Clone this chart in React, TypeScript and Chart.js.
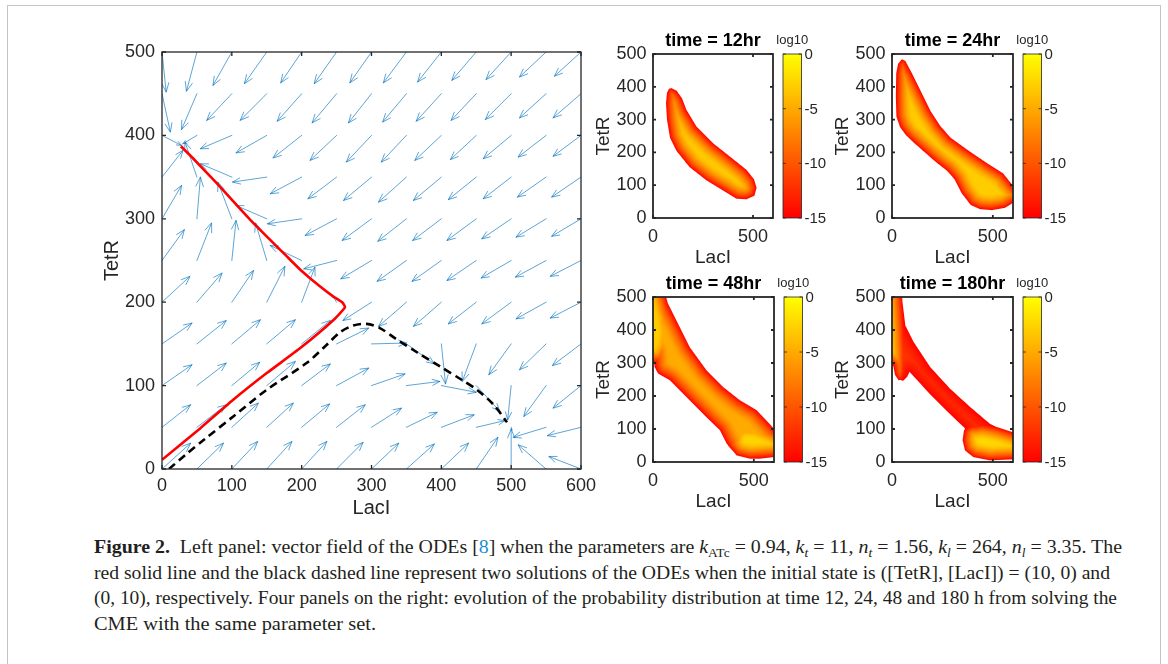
import React, { useEffect, useLayoutEffect, useRef } from 'react';
import { Chart, registerables } from 'chart.js';

Chart.register(...registerables);

const FONT = "'Liberation Sans', Arial, Helvetica, sans-serif";
const SERIF = "'Liberation Serif', 'Times New Roman', serif";
const AXIS_COLOR = '#262626';
const ARROW_COLOR = 'rgba(0,114,189,0.8)';

// ---------------- Left panel: vector field + trajectories ----------------
const mainXTicks = [0, 100, 200, 300, 400, 500, 600];
const mainYTicks = [0, 100, 200, 300, 400, 500];

const quiverLacI = [0, 50, 100, 150, 200, 250, 300, 350, 400, 450, 500, 550, 600];
const quiverTetR = [0, 50, 100, 150, 200, 250, 300, 350, 400, 450, 500];
// rows: TetR = 0 .. 500, columns: LacI = 0 .. 600 (arrow components in data units)
const quiverU = [
  [41, 38, 37, 36, 36, 38, 39, 40, 39, 31, 0, -40, -46],
  [41, 42, 38, 38, 40, 41, 43, 44, 47, 41, 1, -47, -48],
  [43, 42, 40, 41, 41, 46, 48, 48, 50, 34, -5, -32, -40],
  [43, 42, 41, 41, 41, 46, 50, 40, 6, -20, -32, -38, -41],
  [40, 36, 31, 26, 19, -6, -41, -40, -40, -40, -42, -43, -44],
  [32, 21, 6, -16, -45, -47, -44, -42, -42, -42, -43, -44, -44],
  [28, 5, -20, -44, -49, -45, -42, -41, -41, -42, -42, -43, -42],
  [30, -17, -45, -49, -45, -41, -40, -40, -40, -40, -40, -41, -42],
  [28, -20, -45, -44, -41, -38, -36, -36, -38, -37, -40, -40, -40],
  [12, -22, -36, -38, -35, -35, -33, -34, -36, -36, -37, -38, -40],
  [6, -15, -27, -32, -30, -32, -31, -33, -34, -35, -36, -38, -38],
];
const quiverV = [
  [31, 31, 33, 33, 33, 32, 31, 30, 31, 38, 48, 29, 15],
  [27, 27, 29, 29, 28, 27, 23, 18, 15, 8, -3, -12, -10],
  [25, 27, 28, 29, 26, 21, 14, 5, -8, -31, -41, -37, -27],
  [25, 28, 29, 29, 28, 19, 1, -24, -48, -45, -37, -31, -26],
  [31, 35, 38, 43, 42, 8, -22, -29, -29, -26, -26, -20, -19],
  [37, 45, 48, 45, 18, -10, -22, -25, -25, -24, -21, -20, -19],
  [40, 50, 44, 16, -6, -20, -26, -27, -26, -26, -24, -22, -21],
  [32, 42, 16, -6, -20, -26, -28, -30, -28, -27, -26, -24, -24],
  [-12, -10, -16, -21, -27, -30, -32, -32, -30, -29, -28, -26, -25],
  [-46, -43, -32, -32, -33, -35, -35, -34, -33, -32, -31, -29, -29],
  [-48, -47, -40, -38, -37, -38, -37, -37, -36, -34, -33, -30, -29],
];

const redLacI = [0, 55, 102, 150, 198, 246, 262, 258, 245, 226, 198, 181, 126, 78, 45, 27];
const redTetR = [11, 49, 83, 115, 145, 179, 194, 200, 207, 219, 239, 253, 299, 343, 372, 387];
const blackLacI = [10, 35, 60, 102, 150, 207, 236, 255, 274, 293, 312, 335, 365, 398, 429, 451, 475, 494];
const blackTetR = [0, 18, 35, 63, 95, 127, 149, 164, 172, 174, 169, 156, 140, 123, 107, 95, 77, 56];

// ---------------- Right panels: probability distributions ----------------
const smallXTicks = [0, 500];
const smallYTicks = [0, 100, 200, 300, 400, 500];
const colorbarTicks = [0, -5, -10, -15];
const CB_MIN = -15;
const CB_MAX = 0;
const panelTitles = ['time = 12hr', 'time = 24hr', 'time = 48hr', 'time = 180hr'];

// outlines in (LacI, TetR) and log10 peak value of each region
const dist12Outline = [[92, 396], [118, 388], [145, 365], [167, 330], [217, 279], [300, 228], [383, 188], [467, 147], [505, 118], [518, 92], [507, 68], [467, 57], [417, 59], [350, 84], [267, 115], [183, 155], [117, 205], [85, 245], [70, 300], [65, 350], [70, 382], [80, 394]];
const dist12Peak = -3.2;

const dist24Outline = [[49, 484], [66, 479], [99, 441], [140, 390], [192, 325], [240, 280], [290, 245], [380, 205], [469, 168], [551, 136], [600, 98], [650, 70], [650, 30], [600, 46], [560, 31], [495, 24], [436, 27], [390, 40], [345, 76], [310, 118], [275, 143], [215, 172], [115, 226], [70, 252], [40, 277], [22, 309], [19, 370], [21, 441], [30, 470]];
const dist24Peak = -3;

const dist48Outline = [[-60, 560], [45, 560], [58, 500], [116, 429], [182, 348], [265, 278], [348, 227], [431, 187], [514, 157], [600, 101], [660, 70], [660, -20], [600, 15], [530, 10], [481, 10], [415, 20], [380, 45], [365, 56], [332, 96], [265, 136], [182, 187], [83, 248], [25, 268], [8, 288], [2, 330], [-60, 380]];
const dist48Peak = -5;
const dist48LobeLeft = [[-80, 560], [45, 560], [65, 500], [92, 440], [104, 390], [90, 340], [50, 305], [10, 298], [-80, 320]];
const dist48LobeLeftPeak = -3;
const dist48LobeRight = [[372, 50], [390, 98], [440, 122], [520, 118], [600, 96], [660, 78], [660, -20], [600, 15], [481, 10], [415, 20]];
const dist48LobeRightPeak = -2.6;

const dist180Outline = [[-60, 560], [42, 560], [49, 500], [66, 414], [107, 364], [189, 288], [288, 222], [387, 167], [485, 116], [551, 96], [600, 86], [660, 70], [660, -20], [600, 8], [485, 5], [403, 15], [362, 35], [350, 66], [356, 92], [362, 102], [271, 155], [189, 205], [110, 258], [87, 273], [75, 258], [55, 246], [35, 250], [18, 265], [8, 290], [-60, 320]];
const dist180Peak = -12;
const dist180LobeLeft = [[-80, 560], [38, 560], [50, 500], [60, 420], [68, 330], [66, 275], [54, 250], [32, 248], [15, 264], [6, 292], [-80, 320]];
const dist180LobeLeftPeak = -3;
const dist180LobeRight = [[350, 66], [358, 97], [385, 110], [450, 115], [520, 106], [600, 90], [660, 76], [660, -20], [600, 8], [485, 5], [403, 15], [362, 35]];
const dist180LobeRightPeak = -2.4;

const panelLayers = [
  [{ outline: dist12Outline, peak: dist12Peak }],
  [{ outline: dist24Outline, peak: dist24Peak }],
  [
    { outline: dist48Outline, peak: dist48Peak },
    { outline: dist48LobeLeft, peak: dist48LobeLeftPeak },
    { outline: dist48LobeRight, peak: dist48LobeRightPeak },
  ],
  [
    { outline: dist180Outline, peak: dist180Peak },
    { outline: dist180LobeLeft, peak: dist180LobeLeftPeak },
    { outline: dist180LobeRight, peak: dist180LobeRightPeak },
  ],
];

// plot areas (page pixels) of the four small panels
const panelAreas = [
  { L: 653, T: 54, R: 773, B: 218 },
  { L: 892, T: 54, R: 1013, B: 218 },
  { L: 653, T: 297, R: 774, B: 462 },
  { L: 892, T: 297, R: 1013, B: 462 },
];

// ---------------- helpers ----------------
function autumn(v: number) {
  const t = Math.max(0, Math.min(1, (v - CB_MIN) / (CB_MAX - CB_MIN)));
  return [255, Math.round(255 * t), 0];
}

function signedDistance(px: number, py: number, poly: number[][]) {
  let inside = false;
  let minD = Infinity;
  for (let i = 0, j = poly.length - 1; i < poly.length; j = i++) {
    const xi = poly[i][0], yi = poly[i][1], xj = poly[j][0], yj = poly[j][1];
    if ((yi > py) !== (yj > py) && px < ((xj - xi) * (py - yi)) / (yj - yi) + xi) inside = !inside;
    const dx = xi - xj, dy = yi - yj;
    const len2 = dx * dx + dy * dy;
    let t = len2 ? ((px - xj) * dx + (py - yj) * dy) / len2 : 0;
    t = Math.max(0, Math.min(1, t));
    const ex = xj + t * dx - px, ey = yj + t * dy - py;
    const d = Math.sqrt(ex * ex + ey * ey);
    if (d < minD) minD = d;
  }
  return inside ? minD : -minD;
}

const DEPTH = 16;

const densityPlugin = {
  id: 'density',
  beforeDatasetsDraw(chart: any, _args: any, opts: any) {
    const layers = opts && opts.layers;
    if (!layers) return;
    const { ctx, chartArea: a, scales } = chart;
    const xs = scales.x, ys = scales.y;
    const L = Math.round(a.left), T = Math.round(a.top), R = Math.round(a.right), B = Math.round(a.bottom);
    const w = R - L, h = B - T;
    const polys = layers.map((l: any) => ({
      pts: l.outline.map((p: number[]) => [xs.getPixelForValue(p[0]), ys.getPixelForValue(p[1])]),
      peak: l.peak,
    }));
    const img = ctx.createImageData(w, h);
    for (let j = 0; j < h; j++) {
      for (let i = 0; i < w; i++) {
        const px = L + i + 0.5, py = T + j + 0.5;
        let best = -Infinity, cov = 0;
        for (const p of polys) {
          const sd = signedDistance(px, py, p.pts);
          const c = Math.max(0, Math.min(1, sd + 0.5));
          if (c <= 0) continue;
          const t = Math.max(0, Math.min(1, sd / DEPTH));
          const val = CB_MIN + (p.peak - CB_MIN) * (1 - Math.pow(1 - t, 1.6));
          if (val > best) best = val;
          if (c > cov) cov = c;
        }
        if (cov > 0) {
          const col = autumn(best);
          const k = (j * w + i) * 4;
          img.data[k] = col[0];
          img.data[k + 1] = col[1];
          img.data[k + 2] = col[2];
          img.data[k + 3] = Math.round(cov * 255);
        }
      }
    }
    ctx.putImageData(img, L, T);
  },
};

const quiverPlugin = {
  id: 'quiver',
  beforeDatasetsDraw(chart: any) {
    const { ctx, chartArea: a, scales } = chart;
    const xs = scales.x, ys = scales.y;
    ctx.save();
    ctx.beginPath();
    ctx.rect(a.left, a.top, a.width, a.height);
    ctx.clip();
    ctx.strokeStyle = ARROW_COLOR;
    ctx.lineWidth = 0.8;
    ctx.lineCap = 'round';
    ctx.beginPath();
    quiverTetR.forEach((tv, r) => {
      quiverLacI.forEach((lv, c) => {
        const u = quiverU[r][c], v = quiverV[r][c];
        const x0 = xs.getPixelForValue(lv), y0 = ys.getPixelForValue(tv);
        const x1 = xs.getPixelForValue(lv + u), y1 = ys.getPixelForValue(tv + v);
        const dx = x1 - x0, dy = y1 - y0;
        const len = Math.hypot(dx, dy);
        if (len < 0.5) return;
        ctx.moveTo(x0, y0);
        ctx.lineTo(x1, y1);
        const hl = len * 0.24, ang = Math.atan2(dy, dx), sp = 0.38;
        ctx.moveTo(x1 - hl * Math.cos(ang - sp), y1 - hl * Math.sin(ang - sp));
        ctx.lineTo(x1, y1);
        ctx.lineTo(x1 - hl * Math.cos(ang + sp), y1 - hl * Math.sin(ang + sp));
      });
    });
    ctx.stroke();
    ctx.restore();
  },
};

const boxPlugin = {
  id: 'box',
  afterDraw(chart: any, _args: any, opts: any) {
    const { ctx, chartArea: a, scales } = chart;
    const tl = (opts && opts.tickLen) || 4;
    ctx.save();
    ctx.strokeStyle = AXIS_COLOR;
    ctx.lineWidth = (opts && opts.lineWidth) || 1.3;
    ctx.beginPath();
    scales.x.ticks.forEach((t: any) => {
      const p = scales.x.getPixelForValue(t.value);
      ctx.moveTo(p, a.bottom);
      ctx.lineTo(p, a.bottom - tl);
      ctx.moveTo(p, a.top);
      ctx.lineTo(p, a.top + tl);
    });
    scales.y.ticks.forEach((t: any) => {
      const p = scales.y.getPixelForValue(t.value);
      ctx.moveTo(a.left, p);
      ctx.lineTo(a.left + tl, p);
      ctx.moveTo(a.right, p);
      ctx.lineTo(a.right - tl, p);
    });
    ctx.stroke();
    ctx.strokeRect(a.left, a.top, a.right - a.left, a.bottom - a.top);
    ctx.restore();
  },
};

const decorPlugin = {
  id: 'decor',
  afterDraw(chart: any, _args: any, opts: any) {
    const { ctx, chartArea: a } = chart;
    ctx.save();
    // title
    ctx.fillStyle = '#000';
    ctx.font = `bold 18px ${FONT}`;
    ctx.textAlign = 'center';
    ctx.textBaseline = 'middle';
    ctx.fillText(opts.title, (a.left + a.right) / 2, a.top - 13);
    // colorbar
    const cbL = a.right + 10, cbW = 18.5;
    const grad = ctx.createLinearGradient(0, a.top, 0, a.bottom);
    const cTop = autumn(CB_MAX), cBot = autumn(CB_MIN);
    grad.addColorStop(0, `rgb(${cTop[0]},${cTop[1]},${cTop[2]})`);
    grad.addColorStop(1, `rgb(${cBot[0]},${cBot[1]},${cBot[2]})`);
    ctx.fillStyle = grad;
    ctx.fillRect(cbL, a.top, cbW, a.bottom - a.top);
    ctx.strokeStyle = AXIS_COLOR;
    ctx.lineWidth = 0.8;
    ctx.strokeRect(cbL, a.top, cbW, a.bottom - a.top);
    const valToPx = (v: number) => a.top + ((CB_MAX - v) / (CB_MAX - CB_MIN)) * (a.bottom - a.top);
    ctx.beginPath();
    colorbarTicks.forEach((v) => {
      const p = valToPx(v);
      ctx.moveTo(cbL + cbW, p);
      ctx.lineTo(cbL + cbW - 3, p);
      ctx.moveTo(cbL, p);
      ctx.lineTo(cbL + 3, p);
    });
    ctx.stroke();
    ctx.fillStyle = AXIS_COLOR;
    ctx.font = `15px ${FONT}`;
    ctx.textAlign = 'left';
    ctx.textBaseline = 'middle';
    colorbarTicks.forEach((v) => {
      ctx.fillText(String(v), cbL + cbW + 3, valToPx(v) + 1);
    });
    ctx.font = `13px ${FONT}`;
    ctx.textAlign = 'center';
    ctx.fillText('log10', cbL + cbW / 2, a.top - 14);
    ctx.restore();
  },
};

function fixedTicks(values: number[]) {
  return (s: any) => {
    s.ticks = values.map((v) => ({ value: v }));
  };
}

// ---------------- components ----------------
function MainPanel() {
  const ref = useRef<HTMLCanvasElement>(null);
  useEffect(() => {
    const chart = new Chart(ref.current as HTMLCanvasElement, {
      type: 'scatter',
      data: {
        datasets: [
          {
            data: redLacI.map((v, i) => ({ x: v, y: redTetR[i] })),
            showLine: true,
            borderColor: '#ff0000',
            borderWidth: 2.6,
            pointRadius: 0,
            tension: 0.15,
            fill: false,
          },
          {
            data: blackLacI.map((v, i) => ({ x: v, y: blackTetR[i] })),
            showLine: true,
            borderColor: '#000000',
            borderWidth: 2.6,
            borderDash: [8, 5],
            pointRadius: 0,
            tension: 0.3,
            fill: false,
          },
        ],
      } as any,
      options: {
        animation: false,
        responsive: false,
        devicePixelRatio: 1,
        layout: { padding: { left: 0, top: 22, right: 29, bottom: 0 } },
        plugins: { legend: { display: false }, tooltip: { enabled: false }, box: { tickLen: 4, lineWidth: 1.3 } } as any,
        scales: {
          x: {
            type: 'linear',
            min: 0,
            max: 600,
            afterBuildTicks: fixedTicks(mainXTicks),
            afterFit: (s: any) => { s.height = 61; },
            grid: { display: false, drawTicks: false },
            border: { display: false },
            ticks: { font: { family: FONT, size: 18 }, color: AXIS_COLOR, padding: 6, maxRotation: 0, autoSkip: false },
            title: { display: true, text: 'LacI', font: { family: FONT, size: 20 }, color: AXIS_COLOR, padding: { top: 0, bottom: 10 } },
          },
          y: {
            type: 'linear',
            min: 0,
            max: 500,
            afterBuildTicks: fixedTicks(mainYTicks),
            afterFit: (s: any) => { s.width = 72; },
            grid: { display: false, drawTicks: false },
            border: { display: false },
            ticks: { font: { family: FONT, size: 18 }, color: AXIS_COLOR, padding: 7, autoSkip: false },
            title: { display: true, text: 'TetR', font: { family: FONT, size: 20 }, color: AXIS_COLOR, padding: { top: 10.5, bottom: 0 } },
          },
        } as any,
      },
      plugins: [quiverPlugin, boxPlugin],
    });
    return () => chart.destroy();
  }, []);
  return (
    <canvas
      ref={ref}
      width={520}
      height={500}
      style={{ position: 'absolute', left: 90, top: 30, width: 520, height: 500 }}
    />
  );
}

function SmallPanel({ index }: { index: number }) {
  const ref = useRef<HTMLCanvasElement>(null);
  const area = panelAreas[index];
  const left = area.L - 68;
  const top = area.T - 34;
  const width = area.R - area.L + 130;
  const height = area.B - area.T + 91;
  useEffect(() => {
    const chart = new Chart(ref.current as HTMLCanvasElement, {
      type: 'scatter',
      data: { datasets: [] },
      options: {
        animation: false,
        responsive: false,
        devicePixelRatio: 1,
        layout: { padding: { left: 0, top: 34, right: 62, bottom: 0 } },
        plugins: {
          legend: { display: false },
          tooltip: { enabled: false },
          density: { layers: panelLayers[index] },
          box: { tickLen: 3, lineWidth: 1.8 },
          decor: { title: panelTitles[index] },
        } as any,
        scales: {
          x: {
            type: 'linear',
            min: 0,
            max: 600,
            afterBuildTicks: fixedTicks(smallXTicks),
            afterFit: (s: any) => { s.height = 57; },
            grid: { display: false, drawTicks: false },
            border: { display: false },
            ticks: { font: { family: FONT, size: 18 }, color: AXIS_COLOR, padding: 8.5, maxRotation: 0, autoSkip: false },
            title: { display: true, text: 'LacI', font: { family: FONT, size: 19 }, color: AXIS_COLOR, padding: { top: 0, bottom: 5.6 } },
          },
          y: {
            type: 'linear',
            min: 0,
            max: 500,
            afterBuildTicks: fixedTicks(smallYTicks),
            afterFit: (s: any) => { s.width = 68; },
            grid: { display: false, drawTicks: false },
            border: { display: false },
            ticks: { font: { family: FONT, size: 18 }, color: AXIS_COLOR, padding: 6.5, autoSkip: false },
            title: { display: true, text: 'TetR', font: { family: FONT, size: 19 }, color: AXIS_COLOR, padding: { top: 7, bottom: 0 } },
          },
        } as any,
      },
      plugins: [densityPlugin, boxPlugin, decorPlugin],
    });
    return () => chart.destroy();
  }, [index]);
  return (
    <canvas
      ref={ref}
      width={width}
      height={height}
      style={{ position: 'absolute', left, top, width, height }}
    />
  );
}

function CaptionLine({ top, width, children }: { top: number; width: number; children: React.ReactNode }) {
  const ref = useRef<HTMLSpanElement>(null);
  useLayoutEffect(() => {
    const el = ref.current;
    if (!el) return;
    el.style.transform = 'none';
    const w = el.getBoundingClientRect().width;
    if (w > 0) el.style.transform = `scaleX(${width / w})`;
  }, [width]);
  return (
    <div style={{ position: 'absolute', left: 94, top, whiteSpace: 'nowrap' }}>
      <span ref={ref} style={{ display: 'inline-block', transformOrigin: '0 0' }}>
        {children}
      </span>
    </div>
  );
}

const sub = { fontSize: '0.68em', verticalAlign: '-0.3em', lineHeight: 0 } as React.CSSProperties;

function Caption() {
  return (
    <div style={{ fontFamily: SERIF, fontSize: 18, color: '#231f20', lineHeight: 'normal' }}>
      <CaptionLine top={537} width={1028}>
        <b>Figure 2.</b>&nbsp; Left panel: vector field of the ODEs [<span style={{ color: '#1b8ed3' }}>8</span>] when the parameters are{' '}
        <i>k</i><span style={sub}>ATc</span> = 0.94, <i>k</i><span style={sub}><i>t</i></span> = 11, <i>n</i><span style={sub}><i>t</i></span> = 1.56,{' '}
        <i>k</i><span style={sub}><i>l</i></span> = 264, <i>n</i><span style={sub}><i>l</i></span> = 3.35. The
      </CaptionLine>
      <CaptionLine top={562.7} width={1016}>
        red solid line and the black dashed line represent two solutions of the ODEs when the initial state is ([TetR], [LacI]) = (10, 0) and
      </CaptionLine>
      <CaptionLine top={588.4} width={1023}>
        (0, 10), respectively. Four panels on the right: evolution of the probability distribution at time 12, 24, 48 and 180 h from solving the
      </CaptionLine>
      <CaptionLine top={614.1} width={282}>
        CME with the same parameter set.
      </CaptionLine>
    </div>
  );
}

export default function App() {
  return (
    <div
      style={{
        position: 'absolute',
        left: 0,
        top: 0,
        width: 1168,
        height: 664,
        overflow: 'hidden',
        background: '#ffffff',
      }}
    >
      <div
        style={{
          position: 'absolute',
          left: 7,
          top: 5,
          width: 1154,
          height: 720,
          border: '1px solid #c4c4c4',
          boxSizing: 'border-box',
        }}
      />
      <MainPanel />
      {panelAreas.map((_, i) => (
        <SmallPanel key={i} index={i} />
      ))}
      <Caption />
    </div>
  );
}
